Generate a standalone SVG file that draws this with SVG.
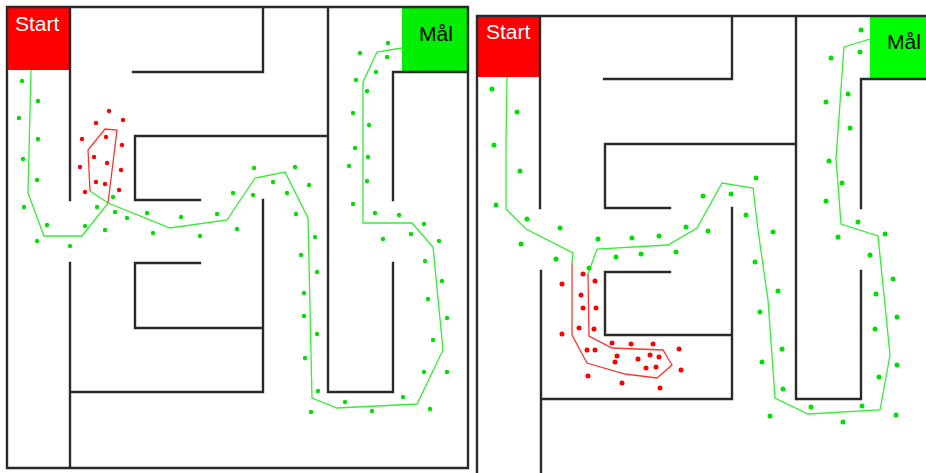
<svg xmlns="http://www.w3.org/2000/svg" width="926" height="473" viewBox="0 0 926 473">
<style>
.wall{stroke:#2a2a2a;stroke-width:2.4;fill:none;stroke-linecap:square}
.gp{stroke:#33ee33;stroke-width:1.3;fill:none}
.rp{stroke:#ff3333;stroke-width:1.3;fill:none}
.lbl{font-family:"Liberation Sans",Arial,sans-serif;font-size:21px}
.g circle{fill:#00e000}
.r circle{fill:#ff0000}
#samples-right-red circle,#samples-right-green circle{r:2.5px}
#samples-left-red circle,#samples-left-green circle{r:2.2px}
</style>
<rect width="926" height="473" fill="#fff"/>
<g id="maze-left">
<rect x="7" y="7" width="63" height="63" fill="#ff0000"/>
<rect x="402" y="7" width="66" height="65" fill="#00ee00"/>
<path class="wall" d="M7,7H468V468H7Z M70,7V200 M70,263V468 M133,72H263V7 M135,136H328 M328,7V392H393V263 M393,200V72H468 M135,136V200H200 M263,200V392H70 M135,263H200 M135,263V328H263"/>
<text class="lbl" x="15" y="31" fill="#fff">Start</text>
<text class="lbl" x="419" y="41" fill="#000">Mål</text>
</g>
<g id="maze-right">
<rect x="478" y="17" width="62" height="60" fill="#ff0000"/>
<rect x="870" y="17" width="56" height="62" fill="#00ff00"/>
<path class="wall" d="M477,473V16H926 M540,16V208 M604,79H732V16 M605,208V144H796 M605,208H670 M796,16V399H861V271 M861,208V79H926 M732,208V399H541 M541,271V473 M605,272H670 M605,272V335H732"/>
<text class="lbl" x="486" y="39" fill="#fff">Start</text>
<text class="lbl" x="887" y="49" fill="#000">Mål</text>
</g>
<g id="connectors">
<polyline class="gp" points="31,70 28,193 44,236 82,236 108,203 170,228 227,220 255,178 285,172 308,218 312,398 337,408 417,404 443,350 433,247 412,223 363,223 363,82 377,52 402,48"/>
<polyline class="gp" points="90,191 108,203"/>
<polyline class="rp" points="108,203 117,130 105,129 88,150 90,191"/>
<polyline class="gp" points="507,77 506,144 506,209 526,229 573,253 572,263"/>
<polyline class="rp" points="572,263 572,335 587,363 625,374 657,378 672,365 663,350 612,348 589,336 588,274"/>
<polyline class="gp" points="588,274 597,249 668,245 697,228 722,183 753,188 758,230 768,300 775,398 808,414 880,410 890,355 878,236 841,224 836,159 844,47 870,39"/>
</g>
<g id="samples-left-red" class="r">
<circle cx="109" cy="111" r="2"/><circle cx="123" cy="120" r="2"/><circle cx="96" cy="123" r="2"/><circle cx="106" cy="137" r="2"/><circle cx="82" cy="139" r="2"/><circle cx="122" cy="145" r="2"/><circle cx="94" cy="157" r="2"/><circle cx="107" cy="163" r="2"/><circle cx="80" cy="167" r="2"/><circle cx="121" cy="170" r="2"/><circle cx="96" cy="182" r="2"/><circle cx="105" cy="184" r="2"/><circle cx="85" cy="192" r="2"/><circle cx="119" cy="190" r="2"/>
</g>
<g id="samples-left-green" class="g">
<circle cx="22" cy="81" r="2"/><circle cx="38" cy="101" r="2"/><circle cx="19" cy="118" r="2"/><circle cx="38" cy="139" r="2"/><circle cx="23" cy="159" r="2"/><circle cx="37" cy="180" r="2"/><circle cx="24" cy="207" r="2"/><circle cx="47" cy="225" r="2"/><circle cx="37" cy="241" r="2"/><circle cx="70" cy="246" r="2"/><circle cx="85" cy="226" r="2"/><circle cx="97" cy="207" r="2"/><circle cx="113" cy="197" r="2"/><circle cx="115" cy="212" r="2"/><circle cx="127" cy="218" r="2"/><circle cx="105" cy="230" r="2"/><circle cx="147" cy="213" r="2"/><circle cx="153" cy="233" r="2"/><circle cx="181" cy="217" r="2"/><circle cx="200" cy="236" r="2"/><circle cx="217" cy="214" r="2"/><circle cx="233" cy="193" r="2"/><circle cx="237" cy="229" r="2"/>
<circle cx="254" cy="168" r="2"/><circle cx="295" cy="167" r="2"/><circle cx="273" cy="182" r="2"/><circle cx="309" cy="185" r="2"/><circle cx="253" cy="195" r="2"/><circle cx="287" cy="193" r="2"/><circle cx="296" cy="214" r="2"/><circle cx="315" cy="237" r="2"/>
<circle cx="388" cy="43" r="2"/><circle cx="360" cy="53" r="2"/><circle cx="387" cy="57" r="2"/><circle cx="376" cy="72" r="2"/><circle cx="356" cy="80" r="2"/><circle cx="367" cy="91" r="2"/><circle cx="353" cy="113" r="2"/><circle cx="369" cy="125" r="2"/><circle cx="355" cy="148" r="2"/><circle cx="368" cy="157" r="2"/><circle cx="349" cy="166" r="2"/><circle cx="367" cy="181" r="2"/><circle cx="353" cy="204" r="2"/><circle cx="375" cy="213" r="2"/><circle cx="399" cy="215" r="2"/><circle cx="424" cy="224" r="2"/><circle cx="411" cy="234" r="2"/><circle cx="383" cy="239" r="2"/><circle cx="439" cy="241" r="2"/><circle cx="425" cy="261" r="2"/>
<circle cx="301" cy="255" r="2"/><circle cx="317" cy="272" r="2"/><circle cx="442" cy="281" r="2"/><circle cx="304" cy="293" r="2"/><circle cx="428" cy="299" r="2"/><circle cx="304" cy="316" r="2"/><circle cx="447" cy="318" r="2"/><circle cx="317" cy="334" r="2"/><circle cx="433" cy="340" r="2"/><circle cx="305" cy="358" r="2"/><circle cx="424" cy="372" r="2"/><circle cx="447" cy="372" r="2"/><circle cx="318" cy="391" r="2"/><circle cx="403" cy="397" r="2"/><circle cx="345" cy="402" r="2"/><circle cx="311" cy="412" r="2"/><circle cx="372" cy="411" r="2"/><circle cx="430" cy="409" r="2"/>
</g>
<g id="samples-right-red" class="r">
<circle cx="583" cy="274" r="2.5"/><circle cx="595" cy="281" r="2.5"/><circle cx="562" cy="284" r="2.5"/><circle cx="581" cy="295" r="2.5"/><circle cx="583" cy="308" r="2.5"/><circle cx="596" cy="308" r="2.5"/><circle cx="579" cy="328" r="2.5"/><circle cx="594" cy="329" r="2.5"/><circle cx="562" cy="334" r="2.5"/><circle cx="612" cy="343" r="2.5"/><circle cx="631" cy="344" r="2.5"/><circle cx="653" cy="344" r="2.5"/><circle cx="587" cy="350" r="2.5"/><circle cx="595" cy="350" r="2.5"/><circle cx="679" cy="349" r="2.5"/><circle cx="617" cy="356" r="2.5"/><circle cx="638" cy="359" r="2.5"/><circle cx="650" cy="355" r="2.5"/><circle cx="659" cy="357" r="2.5"/><circle cx="615" cy="362" r="2.5"/><circle cx="646" cy="368" r="2.5"/><circle cx="656" cy="367" r="2.5"/><circle cx="681" cy="370" r="2.5"/><circle cx="588" cy="376" r="2.5"/><circle cx="622" cy="383" r="2.5"/><circle cx="660" cy="388" r="2.5"/>
</g>
<g id="samples-right-green" class="g">
<circle cx="492" cy="89" r="2.5"/><circle cx="517" cy="112" r="2.5"/><circle cx="494" cy="145" r="2.5"/><circle cx="520" cy="171" r="2.5"/><circle cx="496" cy="205" r="2.5"/><circle cx="527" cy="219" r="2.5"/><circle cx="560" cy="228" r="2.5"/><circle cx="598" cy="239" r="2.5"/><circle cx="632" cy="238" r="2.5"/><circle cx="659" cy="236" r="2.5"/><circle cx="686" cy="227" r="2.5"/><circle cx="521" cy="244" r="2.5"/><circle cx="556" cy="259" r="2.5"/><circle cx="676" cy="252" r="2.5"/><circle cx="641" cy="254" r="2.5"/><circle cx="616" cy="257" r="2.5"/><circle cx="589" cy="268" r="2.5"/>
<circle cx="861" cy="30" r="2.5"/><circle cx="860" cy="52" r="2.5"/><circle cx="831" cy="58" r="2.5"/><circle cx="848" cy="94" r="2.5"/><circle cx="826" cy="102" r="2.5"/><circle cx="850" cy="128" r="2.5"/><circle cx="829" cy="161" r="2.5"/><circle cx="842" cy="183" r="2.5"/><circle cx="826" cy="201" r="2.5"/><circle cx="858" cy="222" r="2.5"/><circle cx="838" cy="237" r="2.5"/><circle cx="885" cy="234" r="2.5"/><circle cx="756" cy="178" r="2.5"/><circle cx="703" cy="196" r="2.5"/><circle cx="731" cy="194" r="2.5"/><circle cx="746" cy="215" r="2.5"/><circle cx="708" cy="231" r="2.5"/><circle cx="773" cy="232" r="2.5"/>
<circle cx="755" cy="262" r="2.5"/><circle cx="778" cy="291" r="2.5"/><circle cx="760" cy="312" r="2.5"/><circle cx="782" cy="349" r="2.5"/><circle cx="762" cy="362" r="2.5"/><circle cx="783" cy="389" r="2.5"/><circle cx="770" cy="416" r="2.5"/><circle cx="811" cy="407" r="2.5"/><circle cx="843" cy="422" r="2.5"/><circle cx="862" cy="406" r="2.5"/><circle cx="896" cy="415" r="2.5"/><circle cx="870" cy="255" r="2.5"/><circle cx="893" cy="279" r="2.5"/><circle cx="876" cy="294" r="2.5"/><circle cx="897" cy="317" r="2.5"/><circle cx="875" cy="329" r="2.5"/><circle cx="897" cy="365" r="2.5"/><circle cx="879" cy="377" r="2.5"/>
</g>
</svg>
